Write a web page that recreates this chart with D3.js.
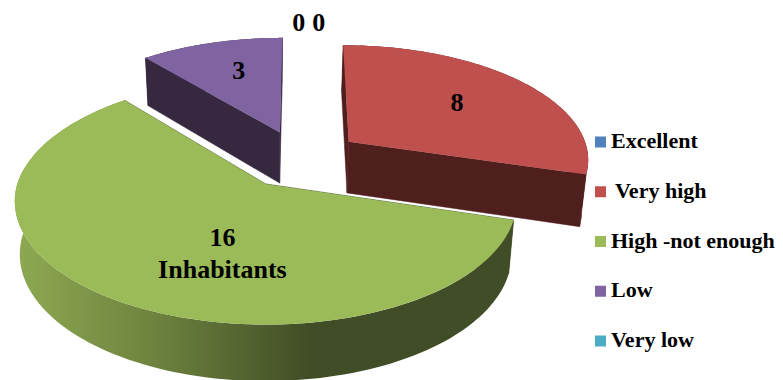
<!DOCTYPE html>
<html><head><meta charset="utf-8">
<script src="https://cdn.jsdelivr.net/npm/d3@7"></script>
<style>html,body{margin:0;background:#fff}svg{display:block}text{font-family:"Liberation Serif",serif;font-weight:bold;fill:#000}</style>
</head><body><div id="c"></div>
<script>
const categories = ["Excellent", "Very high", "High -not enough", "Low", "Very low"];
const legendLabels = ["Excellent", " Very high", "High -not enough", "Low", "Very low"];
const values = [0, 8, 16, 3, 0];
const topColors = ["#4F81BD", "#C0504D", "#9BBB59", "#8064A2", "#4BACC6"];
const sideColors = ["#2A4465", "#4E1F1D", "#3F4A24", "#35283F", "#28606E"];
const sliceLabels = [["0"], ["8"], ["16", "Inhabitants"], ["3"], ["0"]];

const W = 783, H = 380;
const svg = d3.select("#c").append("svg").attr("width", W).attr("height", H);
const defs = svg.append("defs");
const grad = defs.append("linearGradient").attr("id", "greenSide")
  .attr("gradientUnits", "userSpaceOnUse").attr("x1", 20).attr("x2", 310).attr("y1", 0).attr("y2", 0);
[[0, "#8DA851"], [0.45, "#6E843F"], [1, "#414D26"]].forEach(s => grad.append("stop").attr("offset", s[0]).attr("stop-color", s[1]));

// projection of the tilted disc
const O = {x: 266, y: 184}, A = 248.5, B = 121, k = 0.14, shear = 4;
const explode = 0.255;
const baseC = [explode * 0.545, explode * 0.839];
function project(X, Y, bottom) {
  const p = 1 / (1 + k * Y);
  let x = O.x + A * X * p + shear * Math.max(Y, 0);
  let y = O.y - B * Y * p;
  if (bottom) { x = O.x + (x - O.x) * 0.98; y += 52.5 - 4 * Y; }
  return [x, y];
}
const line = d3.line();
const pie = d3.pie().sort(null).startAngle(0).endAngle(2 * Math.PI).value(d => d);
const arcs = pie(values);

function vertex(a) {
  const mid = (a.startAngle + a.endAngle) / 2;
  const off = [Math.sin(mid) * explode, Math.cos(mid) * explode];
  return [baseC[0] + off[0], baseC[1] + off[1]];
}
function rim(a, v, bottom) {
  const n = 120;
  return d3.range(n + 1).map(i => {
    const t = a.startAngle + (a.endAngle - a.startAngle) * i / n;
    return project(v[0] + Math.sin(t), v[1] + Math.cos(t), bottom);
  });
}
const order = [3, 1, 2];
const g = svg.append("g");
order.forEach(i => {
  const a = arcs[i], v = vertex(a);
  const top = rim(a, v, false), bot = rim(a, v, true);
  const c0 = project(v[0], v[1], false), c1 = project(v[0], v[1], true);
  const side = i === 2 ? "url(#greenSide)" : sideColors[i];
  // cut faces
  [[top[0], bot[0]], [top[top.length - 1], bot[bot.length - 1]]].forEach(e => {
    g.append("path").attr("d", line([c0, e[0], e[1], c1]) + "Z")
      .attr("fill", sideColors[i]).attr("stroke", sideColors[i]).attr("stroke-width", 0.5);
  });
  // outer wall
  g.append("path").attr("d", line(top.concat(bot.slice().reverse())) + "Z")
    .attr("fill", side);
  // top face
  g.append("path").attr("d", line([c0].concat(top)) + "Z").attr("fill", topColors[i]);
});

// slice labels
const labelLayout = {1: {r: 0.654, nudge: [-7, 10]}, 2: {r: 0.55, nudge: [37, 3]}, 3: {r: 0.69, nudge: [8, 11]}};
[1, 2, 3].forEach(i => {
  const a = arcs[i], v = vertex(a), mid = (a.startAngle + a.endAngle) / 2, L = labelLayout[i];
  const P = project(v[0] + L.r * Math.sin(mid), v[1] + L.r * Math.cos(mid));
  sliceLabels[i].forEach((s, j) => {
    svg.append("text").attr("x", P[0] + L.nudge[0]).attr("y", P[1] + L.nudge[1] + j * 32)
      .attr("text-anchor", "middle").attr("font-size", 26).text(s);
  });
});
// zero labels sit above the pie at angle 0
[0, 4].forEach((i, j) => {
  const P = project(baseC[0], baseC[1] + 1.49);
  svg.append("text").attr("x", P[0] + (j ? 18 : -2)).attr("y", P[1] + 13)
    .attr("text-anchor", "middle").attr("font-size", 26).text(sliceLabels[i][0]);
});

// legend
const legendY = d3.scalePoint().domain(categories).range([142, 341]);
const leg = svg.append("g");
categories.forEach((c, i) => {
  const y = legendY(c);
  leg.append("rect").attr("x", 595).attr("y", y - 5.5).attr("width", 11).attr("height", 11).attr("fill", topColors[i]);
  leg.append("text").attr("x", legendLabels[i].startsWith(" ") ? 615 : 611).attr("y", y + 6)
    .attr("font-size", 22).text(legendLabels[i].trim());
});
</script></body></html>
